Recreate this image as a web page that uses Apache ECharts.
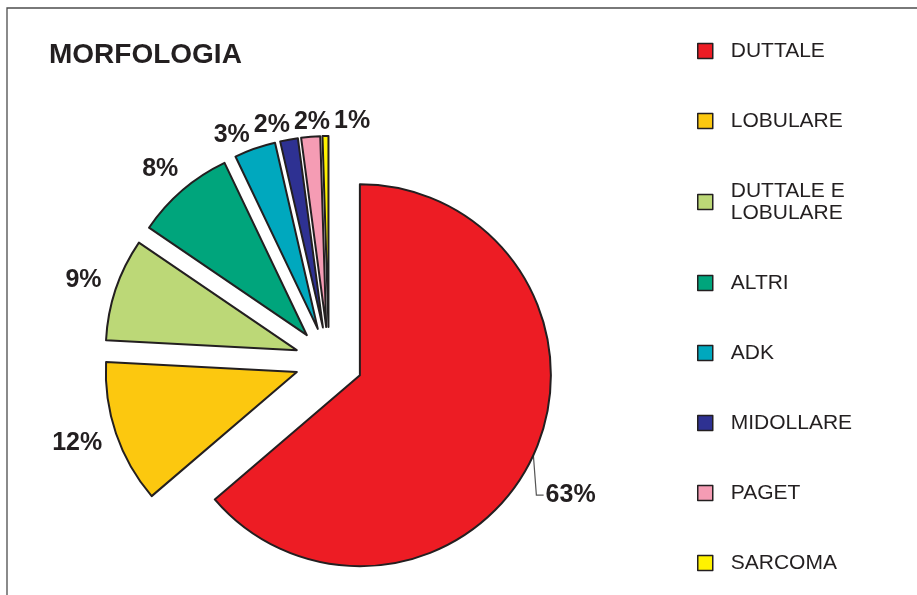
<!DOCTYPE html>
<html>
<head>
<meta charset="utf-8">
<script src="https://cdn.jsdelivr.net/npm/echarts@6/dist/echarts.min.js"></script>
<style>
  html, body { margin: 0; padding: 0; background: #fff; }
  #chart { width: 917px; height: 595px; }
</style>
</head>
<body>
<div id="chart"></div>
<script>
  // dati
  var categories = ['DUTTALE', 'LOBULARE', 'DUTTALE E\nLOBULARE', 'ALTRI', 'ADK', 'MIDOLLARE', 'PAGET', 'SARCOMA'];
  var values = [63.8, 12.1, 8.7, 8.4, 3.5, 1.5, 1.6, 0.5];
  var pctLabels = ['63%', '12%', '9%', '8%', '3%', '2%', '2%', '1%'];
  var colors = ['#ED1C24', '#FCC80F', '#BCD877', '#00A57C', '#00A8BE', '#2E3192', '#F59CB4', '#FFF200'];

  var FONT = 'Liberation Sans, Arial, sans-serif';
  var LABEL_SIZE = 25;
  var CX = 329, CY = 361, R = 191, OFF = 34;

  // angolo medio di ogni fetta (da ore 12, senso orario)
  var total = values.reduce(function (a, b) { return a + b; }, 0);
  var midAngles = [];
  var acc = 0;
  values.forEach(function (v) {
    midAngles.push((acc + v / 2) / total * Math.PI * 2);
    acc += v;
  });

  // etichette in alto: allargate orizzontalmente per non sovrapporsi (come Excel)
  var ctx = document.createElement('canvas').getContext('2d');
  ctx.font = 'bold ' + LABEL_SIZE + 'px ' + FONT;
  var spreadX = {};
  (function () {
    var group = [];
    midAngles.forEach(function (a, i) {
      var dx = Math.sin(a), dy = -Math.cos(a);
      if (Math.abs(dy) <= 0.9) return;
      var w = ctx.measureText(pctLabels[i]).width;
      group.push({ i: i, x: CX + dx * (OFF + R + 2) + dx * w / 2, w: w });
    });
    group.sort(function (a, b) { return a.x - b.x; });
    var pad = 4;
    for (var k = 0; k < 200; k++) {
      for (var j = 0; j < group.length - 1; j++) {
        var l = group[j], r = group[j + 1];
        var ov = (l.x + l.w / 2 + pad) - (r.x - r.w / 2);
        if (ov > 0) { l.x -= ov / 2; r.x += ov / 2; }
      }
    }
    group.forEach(function (g) { spreadX[g.i] = g.x; });
  })();

  var myChart = echarts.init(document.getElementById('chart'));

  var option = {
    animation: false,
    backgroundColor: '#fff',
    color: colors,
    title: {
      text: 'MORFOLOGIA',
      left: 44,
      top: 36,
      textStyle: { color: '#231F20', fontFamily: FONT, fontWeight: 'bold', fontSize: 28 }
    },
    legend: {
      orient: 'vertical',
      left: 697,
      top: 40,
      padding: 0,
      icon: 'rect',
      itemWidth: 15,
      itemHeight: 15,
      itemGap: 48,
      selectedMode: false,
      data: categories,
      itemStyle: { borderColor: '#231F20', borderWidth: 1.5 },
      textStyle: { color: '#231F20', fontFamily: FONT, fontSize: 21, lineHeight: 22, padding: [0, 0, 0, 13] }
    },
    graphic: [{
      // cornice del riquadro
      type: 'polyline',
      shape: { points: [[7, 600], [7, 8], [920, 8]] },
      style: { stroke: '#4d4d4d', lineWidth: 1.3, fill: null },
      silent: true
    }],
    series: [{
      // fette esplose
      type: 'pie',
      center: [CX, CY],
      radius: R,
      startAngle: 90,
      clockwise: true,
      selectedMode: 'multiple',
      selectedOffset: OFF,
      silent: true,
      itemStyle: { borderColor: '#231F20', borderWidth: 2 },
      select: { itemStyle: { borderColor: '#231F20', borderWidth: 2 } },
      emphasis: { disabled: true },
      label: { show: false },
      labelLine: { show: false },
      data: categories.map(function (name, i) {
        return { name: name, value: values[i], selected: true };
      })
    }, {
      // solo etichette (serie trasparente)
      type: 'pie',
      center: [CX, CY],
      radius: R,
      startAngle: 90,
      clockwise: true,
      silent: true,
      avoidLabelOverlap: false,
      itemStyle: { color: 'rgba(0,0,0,0)', borderWidth: 0 },
      emphasis: { disabled: true },
      label: {
        show: true,
        position: 'outside',
        color: '#231F20',
        fontFamily: FONT,
        fontWeight: 'bold',
        fontSize: LABEL_SIZE,
        formatter: function (p) { return pctLabels[p.dataIndex]; }
      },
      labelLine: { show: false, lineStyle: { color: '#555', width: 1.2 } },
      labelLayout: function (p) {
        var i = p.dataIndex;
        var a = midAngles[i];
        var dx = Math.sin(a), dy = -Math.cos(a);
        var w = p.labelRect.width, h = p.labelRect.height;
        var top = spreadX[i] != null;
        var gap = top ? 2 : 16;
        var ex = CX + dx * (OFF + R), ey = CY + dy * (OFF + R);
        var x = top ? spreadX[i] : ex + dx * gap + dx * w / 2;
        var y = ey + dy * gap + dy * h / 2;
        if (i === 0) {
          // etichetta spostata in basso con linea guida
          y += 28;
          return {
            x: x, y: y, align: 'center', verticalAlign: 'middle',
            labelLinePoints: [[ex, ey], [ex + 3, y], [x - w / 2 - 2, y]]
          };
        }
        return { x: x, y: y, align: 'center', verticalAlign: 'middle' };
      },
      data: categories.map(function (name, i) {
        return { name: name, value: values[i], labelLine: { show: i === 0 } };
      })
    }]
  };

  myChart.setOption(option);
</script>
</body>
</html>
